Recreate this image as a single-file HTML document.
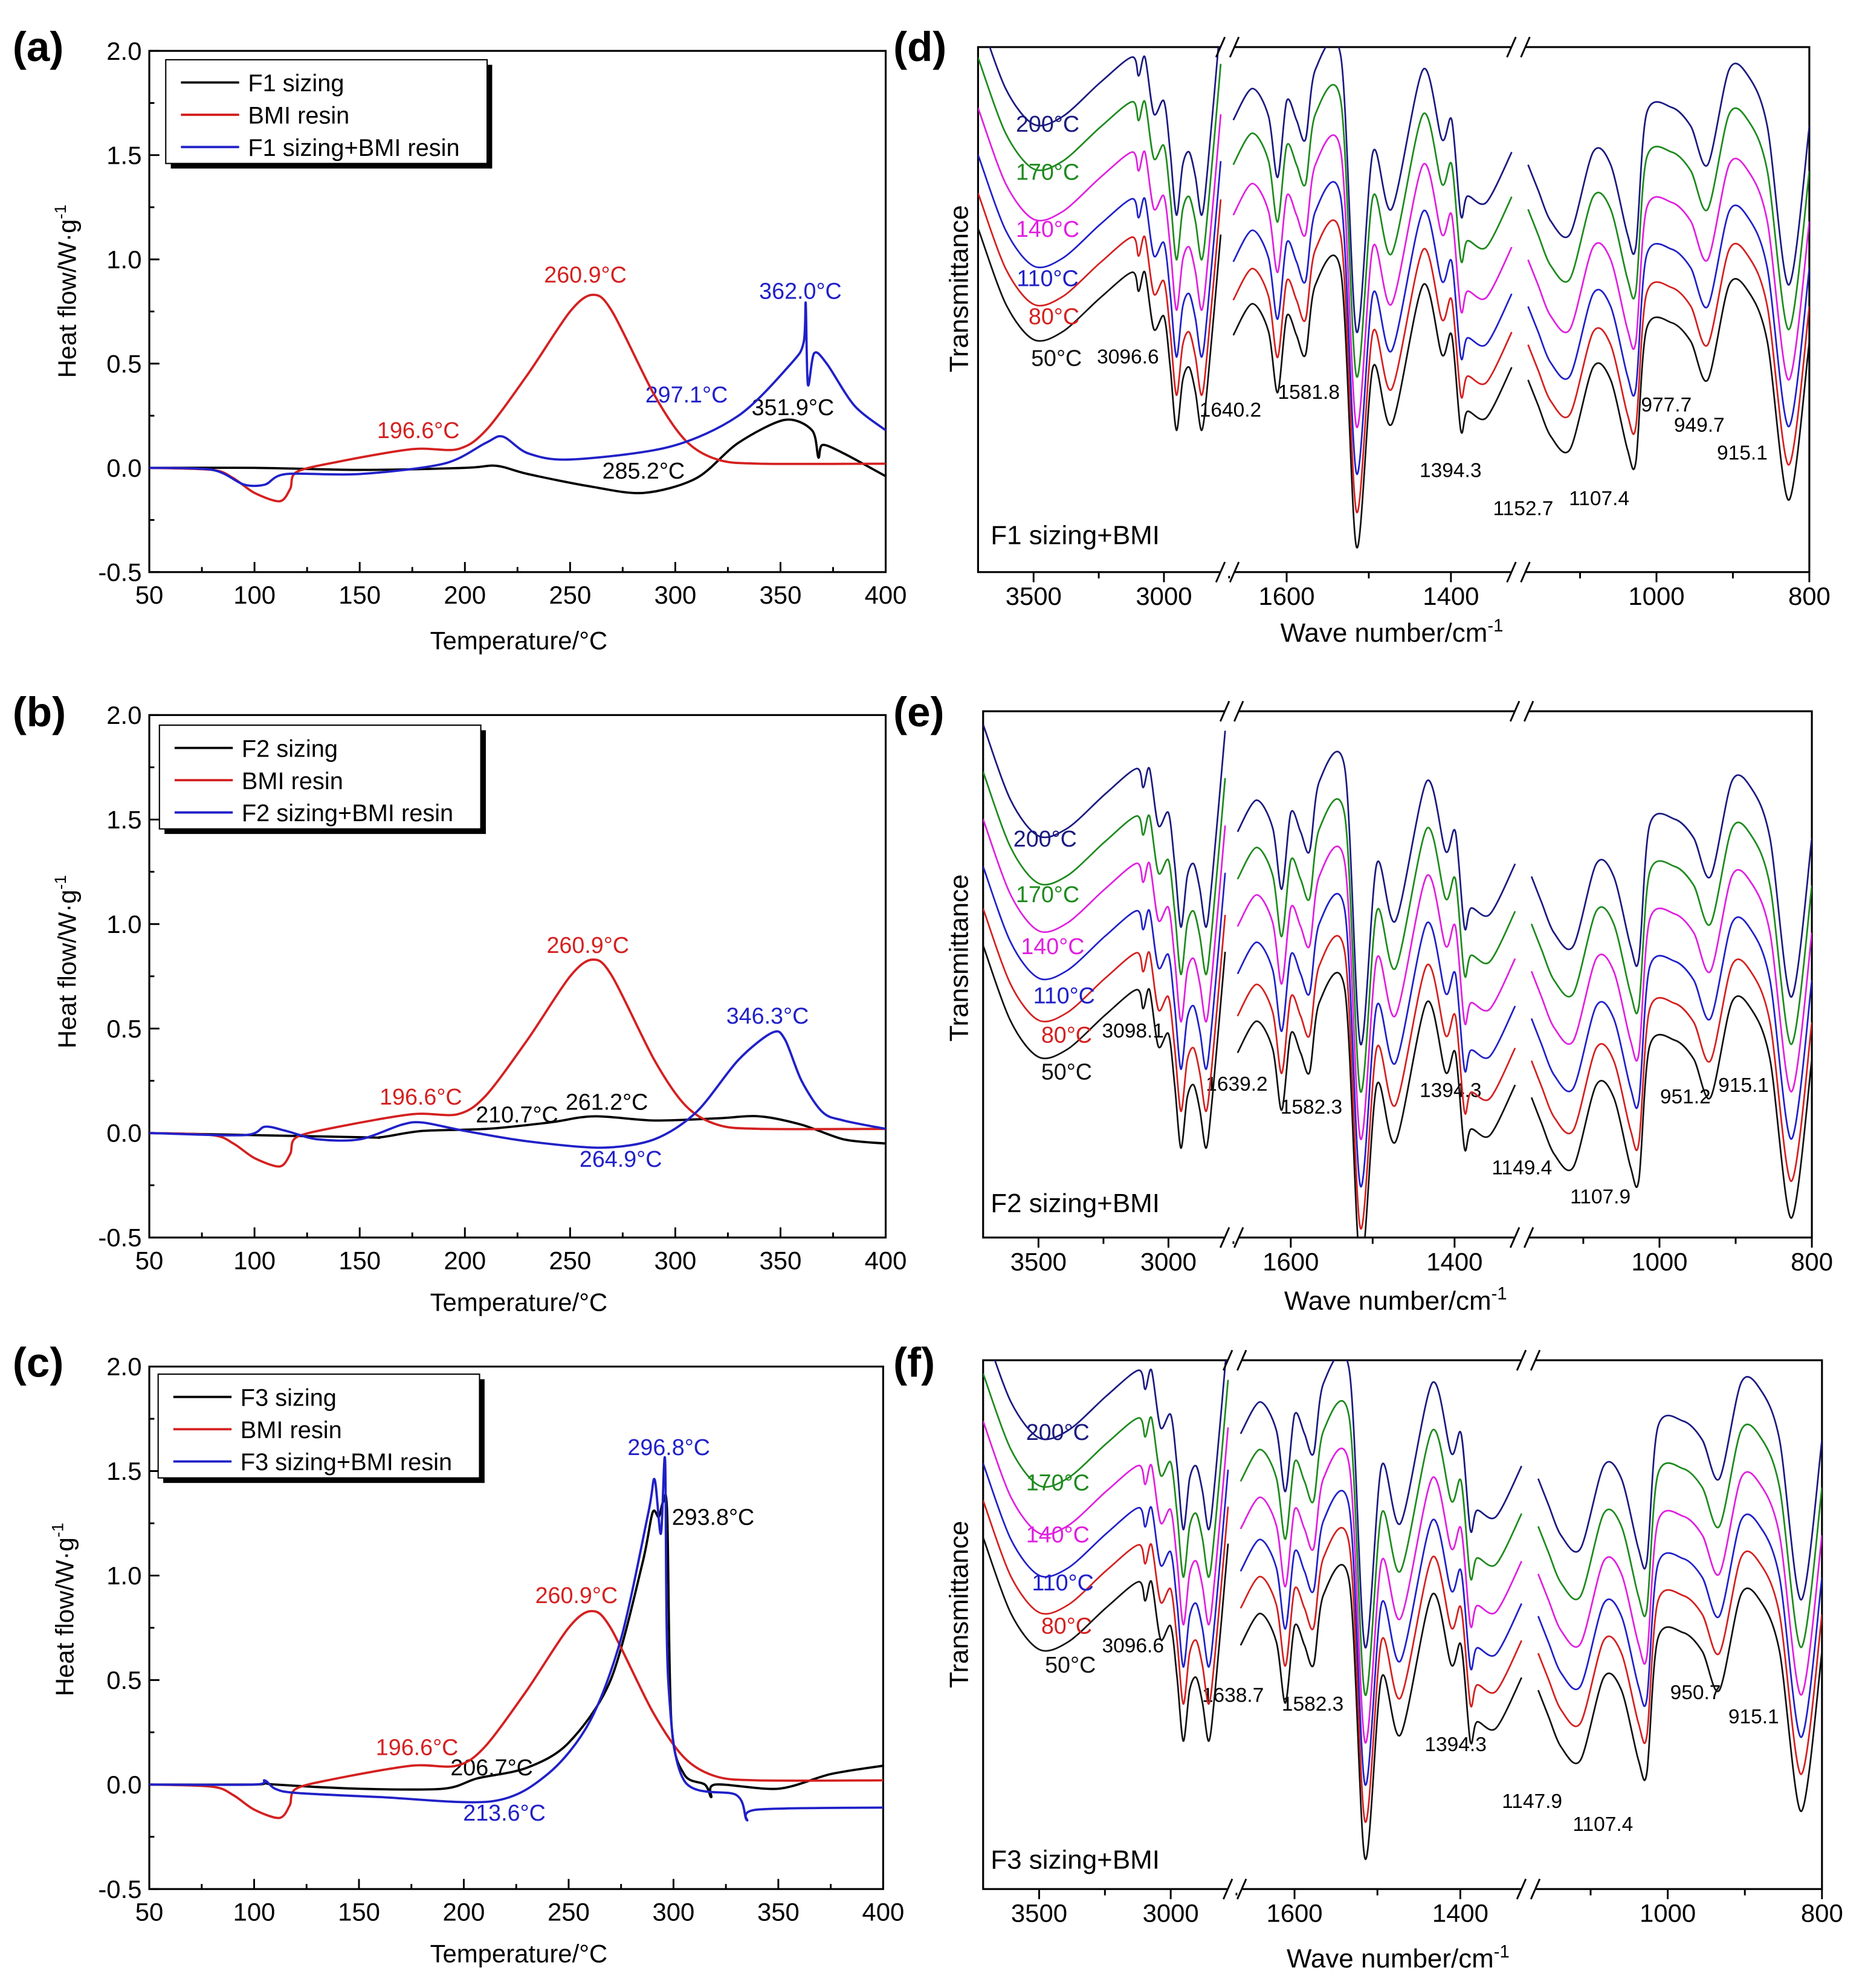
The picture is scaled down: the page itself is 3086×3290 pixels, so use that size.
<!DOCTYPE html>
<html><head><meta charset="utf-8">
<style>
html,body{margin:0;padding:0;background:#fff;}
svg{display:block;font-family:"Liberation Sans",Arial,sans-serif;}
</style></head>
<body>
<svg id="chart" width="3086" height="3290" viewBox="0 0 1474 1571" xmlns="http://www.w3.org/2000/svg">
<rect x="0" y="0" width="1474" height="1571" fill="#fff"/>
<g id="static" font-size="19">
 <text x="10" y="48" font-size="33" font-weight="bold">(a)</text>
 <text x="10" y="574" font-size="33" font-weight="bold">(b)</text>
 <text x="10" y="1088" font-size="33" font-weight="bold">(c)</text>
 <text x="706" y="48" font-size="33" font-weight="bold">(d)</text>
 <text x="706" y="574" font-size="33" font-weight="bold">(e)</text>
 <text x="706" y="1088" font-size="33" font-weight="bold">(f)</text>
 <text x="410" y="513" text-anchor="middle" font-size="20">Temperature/°C</text>
 <text x="410" y="1036" text-anchor="middle" font-size="20">Temperature/°C</text>
 <text x="410" y="1551" text-anchor="middle" font-size="20">Temperature/°C</text>
 <text transform="translate(60,230) rotate(-90)" text-anchor="middle" font-size="20">Heat flow/W·g<tspan dy="-8" font-size="13">-1</tspan></text>
 <text transform="translate(60,760) rotate(-90)" text-anchor="middle" font-size="20">Heat flow/W·g<tspan dy="-8" font-size="13">-1</tspan></text>
 <text transform="translate(58,1272) rotate(-90)" text-anchor="middle" font-size="20">Heat flow/W·g<tspan dy="-8" font-size="13">-1</tspan></text>
 <text x="1100" y="507" text-anchor="middle" font-size="21">Wave number/cm<tspan dy="-8" font-size="14">-1</tspan></text>
 <text x="1103" y="1035" text-anchor="middle" font-size="21">Wave number/cm<tspan dy="-8" font-size="14">-1</tspan></text>
 <text x="1105" y="1555" text-anchor="middle" font-size="21">Wave number/cm<tspan dy="-8" font-size="14">-1</tspan></text>
 <text transform="translate(765,228) rotate(-90)" text-anchor="middle" font-size="21">Transmittance</text>
 <text transform="translate(765,757) rotate(-90)" text-anchor="middle" font-size="21">Transmittance</text>
 <text transform="translate(765,1268) rotate(-90)" text-anchor="middle" font-size="21">Transmittance</text>
 <g font-size="18">
 <text x="430" y="223" fill="#d42020">260.9°C</text>
 <text x="298" y="346" fill="#d42020">196.6°C</text>
 <text x="600" y="236" fill="#2020c8">362.0°C</text>
 <text x="510" y="318" fill="#2020c8">297.1°C</text>
 <text x="594" y="328">351.9°C</text>
 <text x="476" y="378">285.2°C</text>
 <text x="432" y="753" fill="#d42020">260.9°C</text>
 <text x="300" y="873" fill="#d42020">196.6°C</text>
 <text x="574" y="809" fill="#2020c8">346.3°C</text>
 <text x="376" y="887">210.7°C</text>
 <text x="447" y="877">261.2°C</text>
 <text x="458" y="922" fill="#2020c8">264.9°C</text>
 <text x="423" y="1267" fill="#d42020">260.9°C</text>
 <text x="297" y="1387" fill="#d42020">196.6°C</text>
 <text x="496" y="1150" fill="#2020c8">296.8°C</text>
 <text x="531" y="1205">293.8°C</text>
 <text x="356" y="1403">206.7°C</text>
 <text x="366" y="1439" fill="#2020c8">213.6°C</text>
 </g>
 <g font-size="16">
 <text x="867" y="287">3096.6</text>
 <text x="948" y="329">1640.2</text>
 <text x="1010" y="315">1581.8</text>
 <text x="1122" y="377">1394.3</text>
 <text x="1180" y="407">1152.7</text>
 <text x="1240" y="399">1107.4</text>
 <text x="1297" y="325">977.7</text>
 <text x="1323" y="341">949.7</text>
 <text x="1357" y="363">915.1</text>
 <text x="871" y="820">3098.1</text>
 <text x="953" y="862">1639.2</text>
 <text x="1012" y="880">1582.3</text>
 <text x="1122" y="867">1394.3</text>
 <text x="1179" y="928">1149.4</text>
 <text x="1241" y="951">1107.9</text>
 <text x="1312" y="872">951.2</text>
 <text x="1358" y="863">915.1</text>
 <text x="871" y="1306">3096.6</text>
 <text x="950" y="1345">1638.7</text>
 <text x="1013" y="1352">1582.3</text>
 <text x="1126" y="1384">1394.3</text>
 <text x="1187" y="1429">1147.9</text>
 <text x="1243" y="1447">1107.4</text>
 <text x="1320" y="1343">950.7</text>
 <text x="1366" y="1362">915.1</text>
 </g>
 <g font-size="21">
 <text x="783" y="430">F1 sizing+BMI</text>
 <text x="783" y="958">F2 sizing+BMI</text>
 <text x="783" y="1477">F3 sizing+BMI</text>
 </g>
</g>
<g id="dyn"></g>
</svg>
<script>
// ---------- DSC data ----------
const dscXTicks = [50,100,150,200,250,300,350,400];
const dscYTicks = [-0.5,0,0.5,1.0,1.5,2.0];
const dscYTickLabels = ["-0.5","0.0","0.5","1.0","1.5","2.0"];

const bmiT = [50,80,90,100,112,117,120,140,175,196.6,210,230,250,260.9,270,290,305,320,340,400];
const bmiV = [0,-0.01,-0.05,-0.12,-0.16,-0.10,-0.02,0.03,0.09,0.09,0.18,0.45,0.75,0.83,0.75,0.35,0.13,0.04,0.02,0.02];

const aF1T = [50,100,150,200,215,230,260,285,310,330,352,365,368,370,380,400];
const aF1V = [0,0,-0.01,0,0.01,-0.03,-0.09,-0.12,-0.05,0.12,0.23,0.18,0.05,0.11,0.07,-0.04];
const aMixT = [50,80,95,105,115,150,190,210,218,230,250,297,330,355,361,362,363,366,372,385,400];
const aMixV = [0,-0.01,-0.08,-0.08,-0.03,-0.03,0.02,0.12,0.15,0.07,0.04,0.10,0.25,0.50,0.60,0.79,0.40,0.55,0.50,0.30,0.18];

const bF2T = [50,150,160,180,210.7,240,261.2,290,320,340,360,380,400];
const bF2V = [0,-0.02,-0.02,0.01,0.02,0.05,0.08,0.06,0.07,0.08,0.04,-0.03,-0.05];
const bMixT = [50,95,105,115,130,150,170,180,200,230,264.9,290,310,330,346,352,360,370,380,400];
const bMixV = [0,-0.01,0.03,0.01,-0.03,-0.03,0.04,0.05,0.01,-0.04,-0.07,-0.03,0.10,0.35,0.48,0.45,0.25,0.10,0.06,0.02];

const cF3T = [50,100,105,110,150,190,206.7,230,250,270,285,290,293,295,297,299,305,315,318,320,350,375,400];
const cF3V = [0,0,0.01,0,-0.02,-0.02,0.03,0.08,0.2,0.5,1.05,1.3,1.28,1.35,1.3,0.3,0.05,0,-0.06,0,-0.02,0.05,0.09];
const cMixT = [50,100,105,110,120,160,213.6,240,260,275,288,291,294,296,297.5,305,330,335,340,400];
const cMixV = [0,0,0.02,-0.02,-0.04,-0.06,-0.08,0.05,0.3,0.7,1.3,1.46,1.2,1.55,0.5,0.02,-0.05,-0.17,-0.12,-0.11];

// ---------- FTIR data ----------
const seg1Wn = [3713,3607,3500,3388,3243,3122,3097,3073,3039,3000,2976,2952,2928,2903,2879,2855,2831,2782];
const seg1T  = [65.5,51.1,44.3,45.8,52.3,57.1,53.5,57.1,46.3,48.7,39.0,27.0,36.6,39.0,34.2,27.0,36.6,64.3];
const seg2Wn = [1665,1642,1622,1611,1600,1588,1577,1565,1534,1515,1495,1472,1434,1411,1399,1388,1380,1357,1326];
const seg2T  = [45.1,51.1,45.8,34.2,48.7,45.1,41.4,54.7,57.1,4.8,39.0,28.2,54.7,41.4,45.1,27.0,30.6,29.4,39.0];
const seg3Wn = [1168,1155,1138,1113,1083,1060,1038,1027,1013,980,955,933,905,880,855,827,800];
const seg3T  = [36.6,31.8,25.8,23.4,39.0,36.6,23.4,21.0,46.3,47.5,43.9,36.6,54.7,53.5,43.9,13.7,43.9];
const tempLabels = ["50°C","80°C","110°C","140°C","170°C","200°C"];
const offsetsD = [0,6.7,14,22.9,32.5,41];
const offsetsE = [-10,-3,5,14,23,32];
const offsetsF = [1,8,15,23,32,41];
const irTicks1 = [3500,3000]; const irMinor1=[3250,2750];
const irTicks2 = [1600,1400]; const irMinor2=[1500];
const irTicks3 = [1000,800]; const irMinor3=[1100,900];

const svg = document.getElementById('chart');
const NS = svg.namespaceURI;
const root = document.getElementById('dyn');
function mk(tag,parent){const e=document.createElementNS(NS,tag);(parent||root).appendChild(e);return e;}
function att(e,o){for(const k in o)e.setAttribute(k,o[k]);}
function line(x1,y1,x2,y2,name,w){const l=mk('line');att(l,{x1:x1,y1:y1,x2:x2,y2:y2,stroke:'#000','stroke-width':w||1.4});

return l;}
function txt(x,y,s,name,anchor,size,fill){const t=mk('text');att(t,{x:x,y:y,'text-anchor':anchor||'middle','font-size':size||20,fill:fill||'#000'});t.textContent=s;

return t;}
// smooth path through points (Catmull-Rom)
function smooth(P){
  let d='M'+P[0][0].toFixed(1)+','+P[0][1].toFixed(1);
  for(let i=0;i<P.length-1;i++){
    const p0=P[i-1]||P[i],p1=P[i],p2=P[i+1],p3=P[i+2]||P[i+1];
    const k=0.15;
    const c1=[p1[0]+(p2[0]-p0[0])*k,p1[1]+(p2[1]-p0[1])*k];
    const c2=[p2[0]-(p3[0]-p1[0])*k,p2[1]-(p3[1]-p1[1])*k];
    d+='C'+c1[0].toFixed(1)+','+c1[1].toFixed(1)+' '+c2[0].toFixed(1)+','+c2[1].toFixed(1)+' '+p2[0].toFixed(1)+','+p2[1].toFixed(1);
  }
  return d;
}

const RED='#d42020', BLUE='#2020c8';

function dsc(p){
  const xs=t=>p.x0+(t-50)/350*(p.x1-p.x0);
  const ys=v=>p.y1-(v+0.5)/2.5*(p.y1-p.y0);
  const box=mk('rect');att(box,{x:p.x0,y:p.y0,width:p.x1-p.x0,height:p.y1-p.y0,fill:'none',stroke:'#000','stroke-width':1.5});
  
  
  dscXTicks.forEach(t=>{line(xs(t),p.y1,xs(t),p.y1-8,'x-tick-'+p.id);txt(xs(t),p.y1+25,String(t),'x-tick-label-'+p.id);});
  for(let t=75;t<400;t+=50)line(xs(t),p.y1,xs(t),p.y1-4,'x-minor-tick-'+p.id);
  dscYTicks.forEach((v,i)=>{line(p.x0,ys(v),p.x0+8,ys(v),'y-tick-'+p.id);txt(p.x0-6,ys(v)+7,dscYTickLabels[i],'y-tick-label-'+p.id,'end');});
  for(let v=-0.25;v<2;v+=0.5)line(p.x0,ys(v),p.x0+4,ys(v),'y-minor-tick-'+p.id);
  p.series.forEach(s=>{
    const path=mk('path');
    att(path,{d:smooth(s.t.map((t,i)=>[xs(t),ys(s.v[i])])),fill:'none',stroke:s.c,'stroke-width':1.8});
    
    
  });
  const L=p.leg;
  const sh=mk('rect');att(sh,{x:L.x+4,y:L.y+4,width:L.w,height:82,fill:'#000'});
  
  
  const lb=mk('rect');att(lb,{x:L.x,y:L.y,width:L.w,height:82,fill:'#fff',stroke:'#000','stroke-width':1});
  
  
  p.series.forEach((s,i)=>{
    const yy=L.y+18+i*25.5;
    const ll=line(L.x+12,yy,L.x+58,yy,'legend-swatch-'+s.name,1.8);ll.setAttribute('stroke',s.c);
    txt(L.x+65,yy+7,s.label,'legend-entry-'+s.name,'start',19);
  });
}

dsc({id:'a',x0:118,x1:700,y0:40,y1:452,leg:{x:131,y:47,w:254},series:[
 {t:aF1T,v:aF1V,c:'#000',name:'a-f1-sizing',label:'F1 sizing'},
 {t:bmiT,v:bmiV,c:RED,name:'a-bmi-resin',label:'BMI resin'},
 {t:aMixT,v:aMixV,c:BLUE,name:'a-f1-bmi',label:'F1 sizing+BMI resin'}]});
dsc({id:'b',x0:118,x1:700,y0:565,y1:978,leg:{x:126,y:573,w:254},series:[
 {t:bF2T,v:bF2V,c:'#000',name:'b-f2-sizing',label:'F2 sizing'},
 {t:bmiT,v:bmiV,c:RED,name:'b-bmi-resin',label:'BMI resin'},
 {t:bMixT,v:bMixV,c:BLUE,name:'b-f2-bmi',label:'F2 sizing+BMI resin'}]});
dsc({id:'c',x0:118,x1:698,y0:1080,y1:1493,leg:{x:125,y:1086,w:254},series:[
 {t:cF3T,v:cF3V,c:'#000',name:'c-f3-sizing',label:'F3 sizing'},
 {t:bmiT,v:bmiV,c:RED,name:'c-bmi-resin',label:'BMI resin'},
 {t:cMixT,v:cMixV,c:BLUE,name:'c-f3-bmi',label:'F3 sizing+BMI resin'}]});

const IRC=['#111','#d42020','#2020c8','#e020e0','#1e8a1e','#1a1a80'];
function ir(p){
  const W=p.x1-p.x0;
  const segs=[{wn:seg1Wn,T:seg1T,a:3713,b:2782,f0:0,f1:0.292,tk:irTicks1,mn:irMinor1},
              {wn:seg2Wn,T:seg2T,a:1665,b:1326,f0:0.307,f1:0.642,tk:irTicks2,mn:irMinor2},
              {wn:seg3Wn,T:seg3T,a:1172,b:800,f0:0.658,f1:1.0,tk:irTicks3,mn:irMinor3}];
  const ys=u=>p.y1-u/100*(p.y1-p.y0);
  const clip=mk('clipPath');clip.setAttribute('id','clip'+p.id);
  
  
  const cr=mk('rect',clip);att(cr,{x:p.x0,y:p.y0,width:W,height:p.y1-p.y0});
  
  
  const box=mk('rect');att(box,{x:p.x0,y:p.y0,width:W,height:p.y1-p.y0,fill:'none',stroke:'#000','stroke-width':1.5});
  
  
  segs.forEach((s,si)=>{
    const xs=w=>p.x0+W*(s.f0+(s.a-w)/(s.a-s.b)*(s.f1-s.f0));
    s.tk.forEach(w=>{line(xs(w),p.y1,xs(w),p.y1+8,'x-tick-'+p.id);txt(xs(w),p.y1+26,String(w),'x-tick-label-'+p.id);});
    s.mn.forEach(w=>line(xs(w),p.y1,xs(w),p.y1+5,'x-minor-tick-'+p.id));
    p.off.forEach((o,k)=>{
      const path=mk('path');
      att(path,{d:smooth(s.wn.map((w,i)=>[xs(w),ys(s.T[i]+o)])),fill:'none',stroke:IRC[k],'stroke-width':1.3,'clip-path':'url(#clip'+p.id+')'});
      
      
    });
  });
  [0.3,0.65].forEach((f,bi)=>{
    const bx=p.x0+W*f;
    [p.y0,p.y1].forEach(yy=>{
      const wr=mk('rect');att(wr,{x:bx-6,y:yy-3,width:12,height:6,fill:'#fff'});
      
      
      line(bx-9,yy+8,bx-2,yy-8,'axis-break-mark-'+p.id,1.4);
      line(bx+2,yy+8,bx+9,yy-8,'axis-break-mark-'+p.id,1.4);
    });
  });
  p.lab.forEach((q,k)=>txt(q[0],q[1],tempLabels[k],'temp-label-'+p.id+'-'+k,'middle',18,IRC[k]));
}
ir({id:'d',x0:773,x1:1430,y0:37,y1:452,off:offsetsD,lab:[[835,289],[833,256],[828,226],[828,187],[828,142],[828,104]]});
ir({id:'e',x0:777,x1:1432,y0:562,y1:978,off:offsetsE,lab:[[843,853],[843,824],[841,793],[832,754],[828,713],[826,669]]});
ir({id:'f',x0:777,x1:1440,y0:1075,y1:1493,off:offsetsF,lab:[[846,1322],[843,1291],[840,1257],[836,1219],[836,1178],[836,1138]]});
</script>
</body></html>
